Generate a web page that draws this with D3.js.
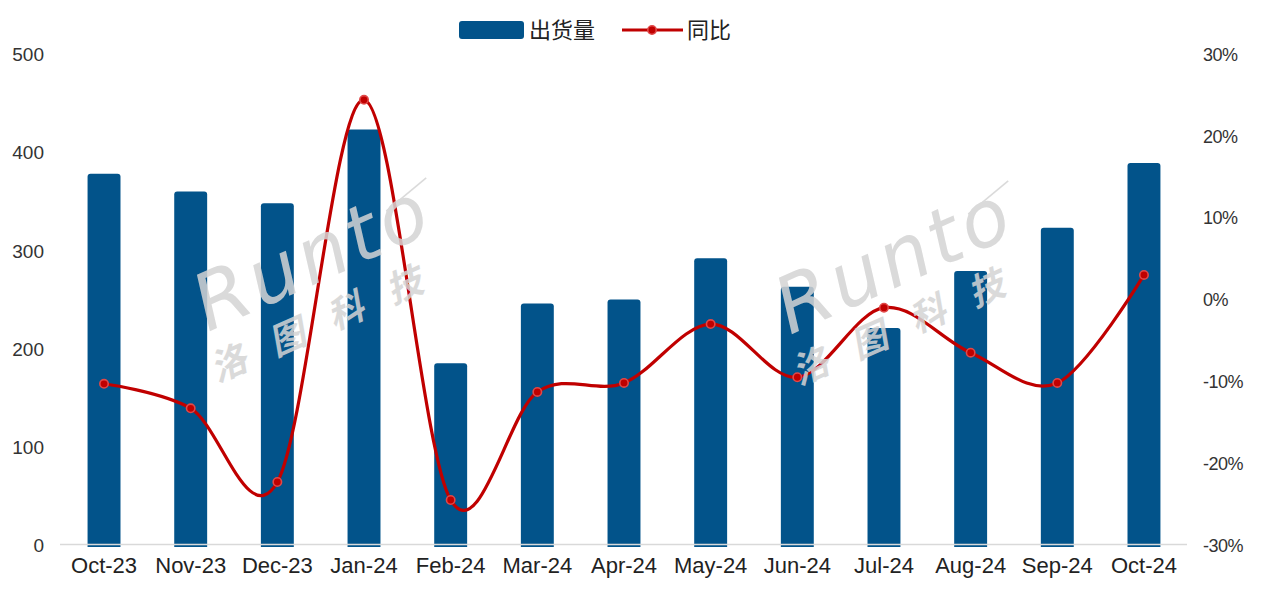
<!DOCTYPE html>
<html><head><meta charset="utf-8">
<script src="https://cdn.jsdelivr.net/npm/d3@7"></script>
<style>body{margin:0;background:#fff}svg{display:block}</style>
</head><body>
<svg id="c" width="1273" height="589"></svg>
<script>
const categories = ["Oct-23","Nov-23","Dec-23","Jan-24","Feb-24","Mar-24","Apr-24","May-24","Jun-24","Jul-24","Aug-24","Sep-24","Oct-24"];
const shipments = [378,360,348,423,185,246,250,292,263,221,279,323,389];
const yoy = [-10.3,-13.3,-22.3,24.4,-24.5,-11.3,-10.2,-3.0,-9.5,-1.0,-6.5,-10.2,3.0];
const leftTicks = [0,100,200,300,400,500];
const rightTicks = [-30,-20,-10,0,10,20,30];
const legendLabels = ["出货量","同比"];

const svg = d3.select("#c");
const font = "'Liberation Sans', Arial, sans-serif";
const barColor = "#02538a", lineColor = "#c00000";

const x = d3.scaleBand().domain(categories).range([60.7, 1187.3]).paddingInner(0.62).paddingOuter(0.31);
const yL = d3.scaleLinear().domain([0,500]).range([545,54]);
const yR = d3.scaleLinear().domain([-30,30]).range([545,54]);

// bars
svg.append("g").selectAll("path").data(shipments).join("path")
  .attr("fill", barColor)
  .attr("d", (d,i) => {
    const x0 = x(categories[i]), w = x.bandwidth(), t = yL(d), b = yL(0)+2, r = 3;
    return `M${x0},${b}V${t+r}Q${x0},${t} ${x0+r},${t}H${x0+w-r}Q${x0+w},${t} ${x0+w},${t+r}V${b}Z`;
  });

// axis line
svg.append("line").attr("x1",60).attr("x2",1187).attr("y1",544.5).attr("y2",544.5)
  .attr("stroke","#d9d9d9").attr("stroke-width",1.5);

// left axis
const gl = svg.append("g").attr("transform","translate(44,0)")
  .call(d3.axisLeft(yL).tickValues(leftTicks).tickSize(0).tickPadding(0));
gl.select(".domain").remove();
gl.selectAll("text").attr("font-family",font).attr("font-size",19).attr("fill","#333").attr("dy","0.35em");

// right axis
const gr = svg.append("g").attr("transform","translate(1203,0)")
  .call(d3.axisRight(yR).tickValues(rightTicks).tickSize(0).tickPadding(0).tickFormat(d => d + "%"));
gr.select(".domain").remove();
gr.selectAll("text").attr("font-family",font).attr("font-size",18).attr("fill","#333").attr("dy","0.35em")
  .attr("letter-spacing", -0.5);

// bottom axis
const gb = svg.append("g").attr("transform","translate(0,556)")
  .call(d3.axisBottom(x).tickSize(0).tickPadding(0));
gb.select(".domain").remove();
gb.selectAll("text").attr("font-family",font).attr("font-size",22).attr("fill","#222").attr("dy","0.75em");

// line
const cx = i => x(categories[i]) + x.bandwidth()/2;
const line = d3.line().x((d,i) => cx(i)).y(d => yR(d)).curve(d3.curveCatmullRom.alpha(0));
svg.append("path").datum(yoy).attr("d", line).attr("fill","none")
  .attr("stroke", lineColor).attr("stroke-width",3.2);
svg.append("g").selectAll("circle").data(yoy).join("circle")
  .attr("cx",(d,i)=>cx(i)).attr("cy",d=>yR(d)).attr("r",4.2)
  .attr("fill",lineColor).attr("stroke","#e04848").attr("stroke-width",1.6);

// watermark
function watermark(tx, ty){
  const g = svg.append("g").attr("transform",`translate(${tx},${ty}) rotate(-24)`).attr("opacity",0.85);
  g.append("text").text("Runto").attr("x",0).attr("y",0)
    .attr("font-family","'DejaVu Sans', sans-serif").attr("font-size",78).attr("font-weight",300)
    .attr("fill","#d4d4d4").attr("letter-spacing",4).attr("font-style","italic");
  g.append("line").attr("x1",212).attr("x2",262).attr("y1",-38).attr("y2",-52)
    .attr("stroke","#d4d4d4").attr("stroke-width",1.5);
  g.append("text").text("洛图科技").attr("x",-12).attr("y",50)
    .attr("font-family","'Noto Sans CJK SC', sans-serif").attr("font-size",36).attr("font-weight",700)
    .attr("fill","#d4d4d4").attr("letter-spacing",28).attr("font-style","italic");
}
watermark(208, 332);
watermark(790, 335);

// legend
const lg = svg.append("g");
lg.append("rect").attr("x",459).attr("y",21).attr("width",65).attr("height",18).attr("rx",3).attr("fill",barColor);
lg.append("text").text(legendLabels[0]).attr("x",529).attr("y",38)
  .attr("font-family","'Noto Sans CJK SC', sans-serif").attr("font-size",22).attr("fill","#222");
lg.append("line").attr("x1",622).attr("x2",683).attr("y1",30).attr("y2",30).attr("stroke",lineColor).attr("stroke-width",3.2);
lg.append("circle").attr("cx",652).attr("cy",30).attr("r",4.2).attr("fill",lineColor).attr("stroke","#e04848").attr("stroke-width",1.6);
lg.append("text").text(legendLabels[1]).attr("x",687).attr("y",38)
  .attr("font-family","'Noto Sans CJK SC', sans-serif").attr("font-size",22).attr("fill","#222");
</script>
</body></html>
